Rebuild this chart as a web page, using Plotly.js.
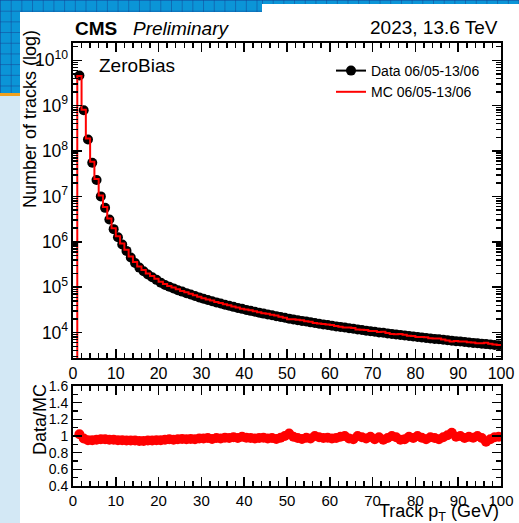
<!DOCTYPE html>
<html>
<head>
<meta charset="utf-8">
<script src="https://cdn.plot.ly/plotly-3.0.1.min.js"></script>
<style>
  html, body { margin: 0; padding: 0; }
  body { width: 519px; height: 523px; position: relative; overflow: hidden; background: #d3e8f5; }
  .grid {
    position: absolute;
    background-color: #0b95d7;
    background-image:
      linear-gradient(to right, rgba(20, 70, 150, 0.55) 1px, transparent 1px),
      linear-gradient(to bottom, rgba(20, 70, 150, 0.55) 1px, transparent 1px);
    background-size: 10.7px 10.7px;
  }
  #stripTopLeft { left: 0; top: 0; width: 262px; height: 12px; }
  #stripTopRight { left: 262px; top: 0; width: 257px; height: 4px; }
  #stripLeft { left: 0; top: 0; width: 20px; height: 93px; }
  #accent { position: absolute; left: 0; top: 93px; width: 20px; height: 3px; background: #f2a11c; }
  #panelTop { position: absolute; left: 262px; top: 4px; right: 0; height: 8px; background: #ffffff; }
  #panel { position: absolute; left: 20px; top: 12px; right: 0; bottom: 0; background: #ffffff; }
  #chart { position: absolute; left: 0; top: 0; width: 519px; height: 523px; }
</style>
</head>
<body>
<div class="grid" id="stripTopLeft"></div>
<div class="grid" id="stripTopRight"></div>
<div class="grid" id="stripLeft"></div>
<div id="accent"></div>
<div id="panelTop"></div>
<div id="panel"></div>
<div id="chart"></div>
<script>
// Track pT histogram: 1 GeV bins from 1 to 100 GeV
const firstEdge = 1;
const binWidth = 1;

// Data yields per bin
const dataCounts = [
  4.6e9, 7.9e8, 1.8e8, 5.5e7, 2.3e7, 1.0e7, 5.6e6, 3.1e6, 1.9e6, 1.26e6,
  8.7e5, 6.3e5, 4.5e5, 3.4e5, 2.7e5, 2.24e5, 1.9e5, 1.66e5, 1.45e5, 1.26e5,
  1.12e5, 1.02e5, 9.4e4, 8.6e4, 8.0e4, 7.4e4, 6.9e4, 6.4e4, 5.96e4, 5.57e4,
  5.22e4, 4.91e4, 4.62e4, 4.36e4, 4.11e4, 3.89e4, 3.69e4, 3.50e4, 3.33e4, 3.16e4,
  3.01e4, 2.87e4, 2.74e4, 2.62e4, 2.51e4, 2.40e4, 2.30e4, 2.20e4, 2.12e4, 2.03e4,
  1.95e4, 1.88e4, 1.81e4, 1.75e4, 1.68e4, 1.63e4, 1.57e4, 1.51e4, 1.47e4, 1.42e4,
  1.37e4, 1.33e4, 1.29e4, 1.25e4, 1.21e4, 1.17e4, 1.14e4, 1.10e4, 1.07e4, 1.04e4,
  1.01e4, 9.9e3, 9.6e3, 9.3e3, 9.1e3, 8.85e3, 8.6e3, 8.4e3, 8.2e3, 8.0e3,
  7.8e3, 7.6e3, 7.4e3, 7.26e3, 7.1e3, 6.93e3, 6.78e3, 6.62e3, 6.47e3, 6.34e3,
  6.19e3, 6.07e3, 5.93e3, 5.81e3, 5.69e3, 5.57e3, 5.46e3, 5.35e3, 5.24e3
];

// Data / MC per bin
const ratioValues = [
  1.02, 0.97, 0.95, 0.95, 0.955, 0.96, 0.96, 0.955, 0.955, 0.95,
  0.95, 0.945, 0.945, 0.945, 0.94, 0.94, 0.945, 0.945, 0.95, 0.95,
  0.955, 0.96, 0.955, 0.96, 0.965, 0.96, 0.965, 0.96, 0.97, 0.97,
  0.975, 0.965, 0.975, 0.97, 0.98, 0.975, 0.985, 0.975, 0.99, 0.98,
  0.975, 0.97, 0.975, 0.98, 0.97, 0.975, 0.965, 0.98, 1.0, 1.03,
  0.99, 0.975, 0.965, 0.98, 0.97, 1.0, 0.985, 0.975, 0.98, 0.97,
  0.975, 0.99, 1.0, 0.97, 0.96, 1.0, 0.985, 0.97, 0.99, 0.96,
  0.985, 0.955, 0.975, 1.0, 0.985, 0.955, 0.96, 0.99, 0.975, 1.0,
  0.98, 0.96, 0.985, 0.975, 0.96, 0.985, 1.01, 1.04, 0.99, 1.0,
  0.975, 0.99, 0.98, 1.0, 0.975, 0.93, 0.96, 0.985, 0.99
];

// Axis tick values
const xTickStep = 10;
const ratioTickStep = 0.2;

const nBins = dataCounts.length;
const edges = [];
const centers = [];
for (let i = 0; i <= nBins; i++) edges.push(firstEdge + i * binWidth);
for (let i = 0; i < nBins; i++) centers.push(firstEdge + (i + 0.5) * binWidth);

// Simulation yields follow from data and the ratio
const mcCounts = dataCounts.map((d, i) => d / ratioValues[i]);

// Data points: isolated markers (gaps keep them unconnected; the legend keeps the line)
const dataX = [], dataY = [];
centers.forEach((c, i) => { dataX.push(c, null); dataY.push(dataCounts[i], null); });

// MC step histogram, rising from below the axis at the first edge
const mcX = [edges[0]], mcY = [1];
for (let i = 0; i < nBins; i++) { mcX.push(edges[i]); mcY.push(mcCounts[i]); }
mcX.push(edges[nBins]); mcY.push(mcCounts[nBins - 1]);

const FONT = 'Liberation Sans, Arial, Helvetica, sans-serif';

const traces = [
  {
    x: dataX, y: dataY, type: 'scatter', mode: 'lines+markers', connectgaps: false,
    name: 'Data 06/05-13/06',
    marker: { color: '#000000', size: 10, symbol: 'circle' },
    line: { color: '#000000', width: 2 },
    xaxis: 'x', yaxis: 'y', hoverinfo: 'skip'
  },
  {
    x: mcX, y: mcY, type: 'scatter', mode: 'lines',
    name: 'MC 06/05-13/06',
    line: { color: '#ff0000', width: 2, shape: 'hv' },
    xaxis: 'x', yaxis: 'y', hoverinfo: 'skip'
  },
  {
    x: centers, y: ratioValues, type: 'scatter', mode: 'markers',
    marker: { color: '#ff0000', size: 10, symbol: 'circle' },
    xaxis: 'x2', yaxis: 'y2', showlegend: false, hoverinfo: 'skip'
  }
];

const frameAxis = {
  showline: true, linecolor: '#000', linewidth: 2, mirror: 'ticks',
  ticks: 'inside', tickcolor: '#000', tickwidth: 1.5,
  showgrid: false, zeroline: false
};

const W = 519, H = 523, ML = 73, MR = 18, MT = 43, MB = 37;
const px = v => (v - ML) / (W - ML - MR);
const py = v => (H - MB - v) / (H - MT - MB);

const layout = {
  width: W, height: H,
  margin: { l: ML, r: MR, t: MT, b: MB, pad: 0 },
  paper_bgcolor: 'rgba(0,0,0,0)',
  plot_bgcolor: '#ffffff',
  font: { family: FONT, color: '#000' },
  showlegend: true,
  legend: {
    x: px(331), y: py(55), xanchor: 'left', yanchor: 'top',
    bgcolor: 'rgba(0,0,0,0)', borderwidth: 0,
    font: { family: FONT, size: 14, color: '#000' },
    tracegroupgap: 0
  },
  xaxis: Object.assign({}, frameAxis, {
    domain: [0, 1], anchor: 'y', range: [0, 100],
    tick0: 0, dtick: xTickStep, ticklen: 9,
    minor: { ticks: 'inside', dtick: 2, ticklen: 5, tickwidth: 1.5, tickcolor: '#000' },
    tickfont: { family: FONT, size: 16, color: '#000' }
  }),
  yaxis: Object.assign({}, frameAxis, {
    domain: [py(358), 1], anchor: 'x', type: 'log', range: [3.44, 10.38],
    dtick: 1, exponentformat: 'power', ticklen: 9,
    minor: { ticks: 'inside', dtick: 'D1', ticklen: 5, tickwidth: 1.5, tickcolor: '#000' },
    tickfont: { family: FONT, size: 14, color: '#000' }
  }),
  xaxis2: Object.assign({}, frameAxis, {
    domain: [0, 1], anchor: 'y2', range: [0, 100],
    tick0: 0, dtick: xTickStep, ticklen: 9,
    minor: { ticks: 'inside', dtick: 2, ticklen: 5, tickwidth: 1.5, tickcolor: '#000' },
    tickfont: { family: FONT, size: 15, color: '#000' }
  }),
  yaxis2: Object.assign({}, frameAxis, {
    domain: [0, py(386)], anchor: 'x2', range: [0.4, 1.6],
    tick0: 0.4, dtick: ratioTickStep, ticklen: 9,
    minor: { ticks: 'inside', dtick: 0.1, ticklen: 5, tickwidth: 1.5, tickcolor: '#000' },
    tickfont: { family: FONT, size: 14, color: '#000' }
  }),
  annotations: [
    { text: '<b>CMS</b>', x: px(73), y: py(28), xref: 'paper', yref: 'paper', xanchor: 'left', yanchor: 'middle', showarrow: false, font: { family: FONT, size: 19 } },
    { text: '<i>Preliminary</i>', x: px(131), y: py(28), xref: 'paper', yref: 'paper', xanchor: 'left', yanchor: 'middle', showarrow: false, font: { family: FONT, size: 19 } },
    { text: '2023, 13.6 TeV', x: px(500), y: py(27), xref: 'paper', yref: 'paper', xanchor: 'right', yanchor: 'middle', showarrow: false, font: { family: FONT, size: 19 } },
    { text: 'ZeroBias', x: px(97), y: py(65), xref: 'paper', yref: 'paper', xanchor: 'left', yanchor: 'middle', showarrow: false, font: { family: FONT, size: 19 } },
    { text: 'Number of tracks (log)', textangle: -90, x: px(30), y: py(119), xref: 'paper', yref: 'paper', xanchor: 'center', yanchor: 'middle', showarrow: false, font: { family: FONT, size: 18 } },
    { text: 'Data/MC', textangle: -90, x: px(40), y: py(420), xref: 'paper', yref: 'paper', xanchor: 'center', yanchor: 'middle', showarrow: false, font: { family: FONT, size: 18 } },
    { text: 'Track p<sub>T</sub> (GeV)', x: px(501), y: py(512), xref: 'paper', yref: 'paper', xanchor: 'right', yanchor: 'middle', showarrow: false, font: { family: FONT, size: 18 } }
  ]
};

Plotly.newPlot('chart', traces, layout, { staticPlot: true, displayModeBar: false });
</script>
</body>
</html>
